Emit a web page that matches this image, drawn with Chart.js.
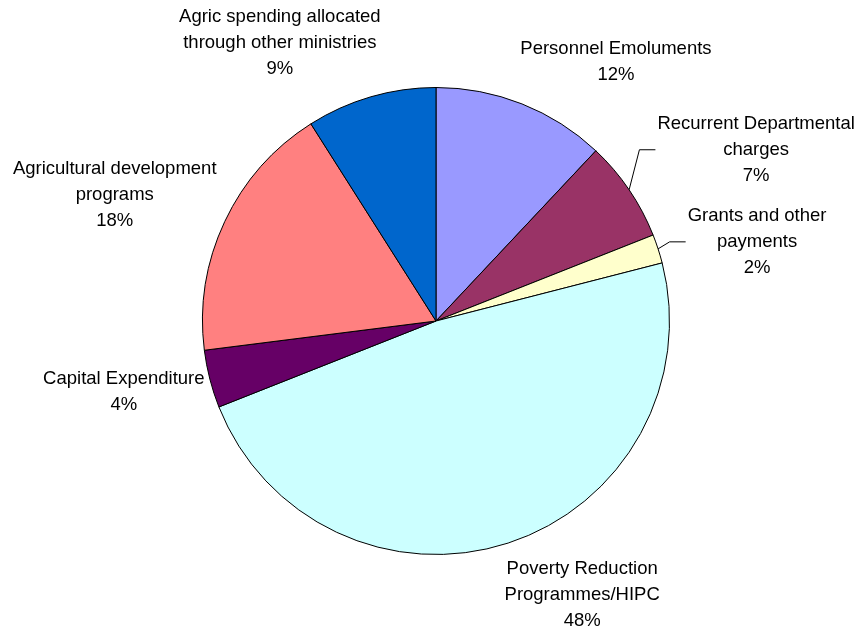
<!DOCTYPE html>
<html>
<head>
<meta charset="utf-8">
<title>Agricultural spending breakdown</title>
<script src="https://cdn.jsdelivr.net/npm/chart.js@4/dist/chart.umd.min.js"></script>
<style>
  html, body { margin: 0; padding: 0; background: #fff; }
  #wrap { width: 860px; height: 633px; }
</style>
</head>
<body>
<div id="wrap"><canvas id="budgetPie" width="860" height="633"></canvas></div>
<script>
// spending categories, clockwise from 12 o'clock
const categories = [
  ['Personnel Emoluments'],
  ['Recurrent Departmental', 'charges'],
  ['Grants and other', 'payments'],
  ['Poverty Reduction', 'Programmes/HIPC'],
  ['Capital Expenditure'],
  ['Agricultural development', 'programs'],
  ['Agric spending allocated', 'through other ministries']
];
const shares = [12, 7, 2, 48, 4, 18, 9];
const sliceColors = ['#9999FF', '#993366', '#FFFFCC', '#CCFFFF', '#660066', '#FF8080', '#0066CC'];

// where each label block sits, relative to the rim point at the slice middle
const labelOffsets = [[94, -42], [127, -40], [99, -7], [74, 52], [-86, 13], [-110, -27], [-91, -54]];
// slices whose label is joined to the rim by a leader line
const leaderSlices = [1, 2];

const FONT = '18.5px "Liberation Sans", Arial, sans-serif';
const LINE_H = 26;

const outsideLabels = {
  id: 'outsideLabels',
  afterDatasetsDraw(chart) {
    const ctx = chart.ctx;
    const meta = chart.getDatasetMeta(0);
    const total = shares.reduce((a, b) => a + b, 0);
    ctx.save();
    ctx.font = FONT;
    ctx.fillStyle = '#000';
    ctx.textAlign = 'center';
    ctx.textBaseline = 'middle';
    meta.data.forEach((arc, i) => {
      const p = arc.getProps(['x', 'y', 'startAngle', 'endAngle', 'outerRadius'], true);
      const mid = (p.startAngle + p.endAngle) / 2;
      const rimX = p.x + Math.cos(mid) * p.outerRadius;
      const rimY = p.y + Math.sin(mid) * p.outerRadius;
      const lines = categories[i].concat([Math.round(shares[i] / total * 100) + '%']);
      const cx = rimX + labelOffsets[i][0];
      const cy = rimY + labelOffsets[i][1];
      const top = cy - (lines.length - 1) * LINE_H / 2;
      lines.forEach((t, k) => ctx.fillText(t, cx, top + k * LINE_H));

      if (leaderSlices.includes(i)) {
        const widest = Math.max(...lines.map(t => ctx.measureText(t).width));
        const endX = cx - widest / 2 - 2;
        const endY = top + LINE_H;
        ctx.beginPath();
        ctx.strokeStyle = '#000';
        ctx.lineWidth = 1;
        ctx.moveTo(rimX, rimY);
        ctx.lineTo(endX - 16, endY);
        ctx.lineTo(endX, endY);
        ctx.stroke();
      }
    });
    ctx.restore();
  }
};

new Chart(document.getElementById('budgetPie'), {
  type: 'pie',
  data: {
    labels: categories.map(c => c.join(' ')),
    datasets: [{
      data: shares,
      backgroundColor: sliceColors,
      borderColor: '#000',
      borderWidth: 1
    }]
  },
  options: {
    responsive: false,
    animation: false,
    layout: { padding: { left: 202, right: 190, top: 87, bottom: 78 } },
    plugins: {
      legend: { display: false },
      tooltip: { enabled: false }
    }
  },
  plugins: [outsideLabels]
});
</script>
</body>
</html>
